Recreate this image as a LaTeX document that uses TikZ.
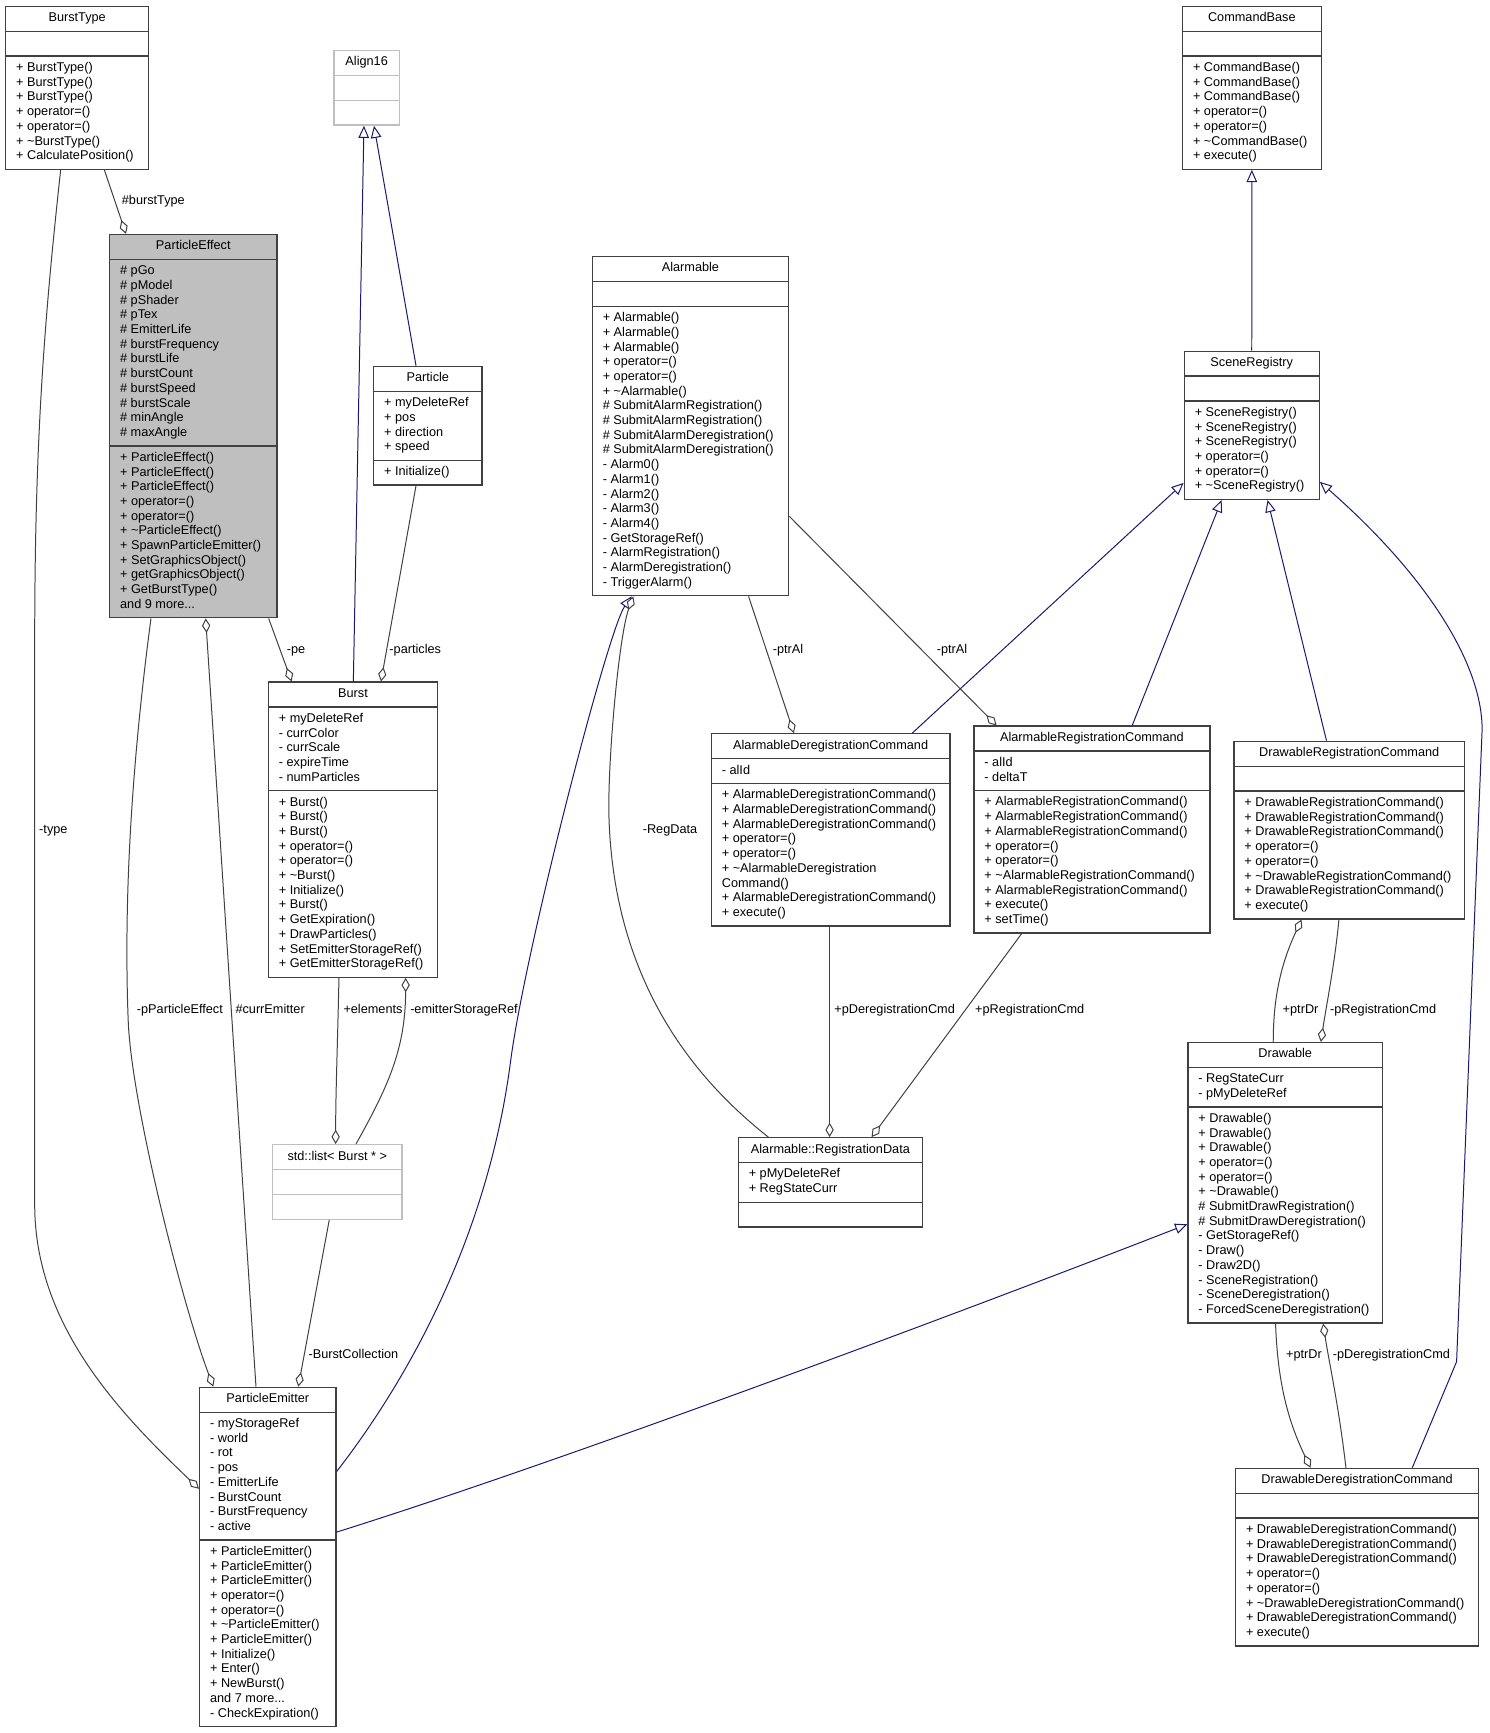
\documentclass[tikz,border=0pt]{standalone}
\usepackage{fontspec}
\setmainfont{Liberation Sans}
\usetikzlibrary{shapes.multipart,arrows.meta}
\definecolor{edgegray}{HTML}{404040}
\definecolor{inhblue}{HTML}{191970}
\definecolor{lightbd}{HTML}{BFBFBF}
\definecolor{selfill}{HTML}{BFBFBF}
\newcommand{\tld}{\textasciitilde}
\begin{document}
\begin{tikzpicture}[x=1pt,y=-1pt,
  cls/.style={rectangle split, rectangle split parts=3, draw=edgegray, line width=1.2pt,
    inner xsep=9.5pt, inner ysep=4.0pt, anchor=north west, align=left,
    rectangle split part align={center,left,left},
    font=\fontsize{11.5}{13.3}\selectfont, text=black},
  lightcls/.style={cls, draw=lightbd},
  lbl/.style={font=\fontsize{11.5}{13.3}\selectfont, inner sep=0pt, anchor=base west, text=black},
  agg/.style={draw=edgegray, line width=0.9pt, -{Diamond[fill=white, length=13pt, width=7.5pt]}},
  inh/.style={draw=inhblue, line width=0.9pt, -{Triangle[fill=white, length=11pt, width=9.5pt]}}
]
\fill[white] (0,0) rectangle (1348,1568);
\useasboundingbox (0,0) rectangle (1348,1568);

% ---------------- classes ----------------
\node[cls, minimum width=129.4pt] (bursttype) at (4.5,5.2)
 {\strut BurstType
  \nodepart{two}\strut
  \nodepart{three}\strut + BurstType()\\ + BurstType()\\ + BurstType()\\ + operator=()\\ + operator=()\\ + \tld BurstType()\\ + CalculatePosition()\strut};

\node[lightcls, minimum width=59.1pt] (align16) at (301.6,45.1)
 {\strut Align16 \nodepart{two}\strut \nodepart{three}\strut};

\node[cls, fill=selfill, minimum width=151.4pt] (peff) at (98.6,211.6)
 {\strut ParticleEffect
  \nodepart{two}\strut \# pGo\\ \# pModel\\ \# pShader\\ \# pTex\\ \# EmitterLife\\ \# burstFrequency\\ \# burstLife\\ \# burstCount\\ \# burstSpeed\\ \# burstScale\\ \# minAngle\\ \# maxAngle\strut
  \nodepart{three}\strut + ParticleEffect()\\ + ParticleEffect()\\ + ParticleEffect()\\ + operator=()\\ + operator=()\\ + \tld ParticleEffect()\\ + SpawnParticleEmitter()\\ + SetGraphicsObject()\\ + getGraphicsObject()\\ + GetBurstType()\\ and 9 more...\strut};

\node[cls, minimum width=98pt] (particle) at (337.5,330.9)
 {\strut Particle
  \nodepart{two}\strut + myDeleteRef\\ + pos\\ + direction\\ + speed\strut
  \nodepart{three}\strut + Initialize()\strut};

\node[cls, minimum width=177.6pt] (alarmable) at (535.3,231.5)
 {\strut Alarmable
  \nodepart{two}\strut
  \nodepart{three}\strut + Alarmable()\\ + Alarmable()\\ + Alarmable()\\ + operator=()\\ + operator=()\\ + \tld Alarmable()\\ \# SubmitAlarmRegistration()\\ \# SubmitAlarmRegistration()\\ \# SubmitAlarmDeregistration()\\ \# SubmitAlarmDeregistration()\\ - Alarm0()\\ - Alarm1()\\ - Alarm2()\\ - Alarm3()\\ - Alarm4()\\ - GetStorageRef()\\ - AlarmRegistration()\\ - AlarmDeregistration()\\ - TriggerAlarm()\strut};

\node[cls, minimum width=125.5pt] (cmdbase) at (1069.3,5.2)
 {\strut CommandBase
  \nodepart{two}\strut
  \nodepart{three}\strut + CommandBase()\\ + CommandBase()\\ + CommandBase()\\ + operator=()\\ + operator=()\\ + \tld CommandBase()\\ + execute()\strut};

\node[cls, minimum width=122.1pt] (scene) at (1070.9,317.2)
 {\strut SceneRegistry
  \nodepart{two}\strut
  \nodepart{three}\strut + SceneRegistry()\\ + SceneRegistry()\\ + SceneRegistry()\\ + operator=()\\ + operator=()\\ + \tld SceneRegistry()\strut};

\node[cls, minimum width=153.2pt] (burst) at (242.2,616.6)
 {\strut Burst
  \nodepart{two}\strut + myDeleteRef\\ - currColor\\ - currScale\\ - expireTime\\ - numParticles\strut
  \nodepart{three}\strut + Burst()\\ + Burst()\\ + Burst()\\ + operator=()\\ + operator=()\\ + \tld Burst()\\ + Initialize()\\ + Burst()\\ + GetExpiration()\\ + DrawParticles()\\ + SetEmitterStorageRef()\\ + GetEmitterStorageRef()\strut};

\node[lightcls, minimum width=117pt] (blist) at (246.1,1035.1)
 {\strut std::list< Burst * > \nodepart{two}\strut \nodepart{three}\strut};

\node[cls, minimum width=215.9pt] (adc) at (643,663.3)
 {\strut AlarmableDeregistrationCommand
  \nodepart{two}\strut - alId\strut
  \nodepart{three}\strut + AlarmableDeregistrationCommand()\\ + AlarmableDeregistrationCommand()\\ + AlarmableDeregistrationCommand()\\ + operator=()\\ + operator=()\\ + \tld AlarmableDeregistration\\ Command()\\ + AlarmableDeregistrationCommand()\\ + execute()\strut};

\node[cls, minimum width=213.5pt] (arc) at (880.6,656.4)
 {\strut AlarmableRegistrationCommand
  \nodepart{two}\strut - alId\\ - deltaT\strut
  \nodepart{three}\strut + AlarmableRegistrationCommand()\\ + AlarmableRegistrationCommand()\\ + AlarmableRegistrationCommand()\\ + operator=()\\ + operator=()\\ + \tld AlarmableRegistrationCommand()\\ + AlarmableRegistrationCommand()\\ + execute()\\ + setTime()\strut};

\node[cls, minimum width=208.7pt] (drc) at (1115.8,670.2)
 {\strut DrawableRegistrationCommand
  \nodepart{two}\strut
  \nodepart{three}\strut + DrawableRegistrationCommand()\\ + DrawableRegistrationCommand()\\ + DrawableRegistrationCommand()\\ + operator=()\\ + operator=()\\ + \tld DrawableRegistrationCommand()\\ + DrawableRegistrationCommand()\\ + execute()\strut};

\node[cls, minimum width=176.1pt] (drawable) at (1074.2,942.7)
 {\strut Drawable
  \nodepart{two}\strut - RegStateCurr\\ - pMyDeleteRef\strut
  \nodepart{three}\strut + Drawable()\\ + Drawable()\\ + Drawable()\\ + operator=()\\ + operator=()\\ + \tld Drawable()\\ \# SubmitDrawRegistration()\\ \# SubmitDrawDeregistration()\\ - GetStorageRef()\\ - Draw()\\ - Draw2D()\\ - SceneRegistration()\\ - SceneDeregistration()\\ - ForcedSceneDeregistration()\strut};

\node[cls, minimum width=166.7pt] (regdata) at (667.4,1028.8)
 {\strut Alarmable::RegistrationData
  \nodepart{two}\strut + pMyDeleteRef\\ + RegStateCurr\strut
  \nodepart{three}\strut};

\node[cls, minimum width=123.4pt] (pemit) at (180,1254.6)
 {\strut ParticleEmitter
  \nodepart{two}\strut - myStorageRef\\ - world\\ - rot\\ - pos\\ - EmitterLife\\ - BurstCount\\ - BurstFrequency\\ - active\strut
  \nodepart{three}\strut + ParticleEmitter()\\ + ParticleEmitter()\\ + ParticleEmitter()\\ + operator=()\\ + operator=()\\ + \tld ParticleEmitter()\\ + ParticleEmitter()\\ + Initialize()\\ + Enter()\\ + NewBurst()\\ and 7 more...\\ - CheckExpiration()\strut};

\node[cls, minimum width=219.9pt] (ddc) at (1117.3,1328)
 {\strut DrawableDeregistrationCommand
  \nodepart{two}\strut
  \nodepart{three}\strut + DrawableDeregistrationCommand()\\ + DrawableDeregistrationCommand()\\ + DrawableDeregistrationCommand()\\ + operator=()\\ + operator=()\\ + \tld DrawableDeregistrationCommand()\\ + DrawableDeregistrationCommand()\\ + execute()\strut};

% ---------------- connectors ----------------
% inheritance
\draw[inh] (319.7,0 |- burst.north) -- (329.3,0 |- align16.south);
\draw[inh] (376.4,0 |- particle.north) -- (338.4,0 |- align16.south);
\draw[inh] (scene.north) -- (cmdbase.south);
\draw[inh] (825.4,0 |- adc.north) -- (scene.west |- 0,436.9);
\draw[inh] (1024.4,0 |- arc.north) -- (1105.3,0 |- scene.south);
\draw[inh] (1200.2,0 |- drc.north) -- (1146.9,0 |- scene.south);
\draw[inh] (1277.8,0 |- ddc.north) -- (1317.9,1232) -- (1341,660)
   .. controls (1341,600) and (1290,520) .. (scene.east |- 0,436);
\draw[inh] (pemit.east |- 0,1331.4) .. controls (360,1260) and (440,1130) .. (462,960)
   .. controls (475,860) and (550,570) .. (571.5,0 |- alarmable.south);
\draw[inh] (pemit.east |- 0,1386.2) .. controls (500,1325) and (850,1195) .. (drawable.west |- 0,1107.7);

% aggregation
\draw[agg] (94.4,0 |- bursttype.south) -- (114,0 |- peff.north);
\draw[agg] (54.9,0 |- bursttype.south) .. controls (40,290) and (31.4,400) .. (31.4,580)
   -- (31.4,1090) .. controls (31.4,1200) and (110,1280) .. (pemit.west |- 0,1347);
\draw[agg] (243.1,0 |- peff.south) -- (263.9,0 |- burst.north);
\draw[agg] (231.6,0 |- pemit.north) -- (186.1,0 |- peff.south);
\draw[agg] (136.6,0 |- peff.south) .. controls (118,700) and (112,820) .. (116,923.6)
   .. controls (119,1000) and (165,1180) .. (193,0 |- pemit.north);
\draw[agg] (297.9,0 |- blist.south) -- (269.9,0 |- pemit.north);
\draw[agg] (306.7,0 |- burst.south) .. controls (305,960) and (303.7,990) .. (303.7,0 |- blist.north);
\draw[agg] (322.1,0 |- blist.north) .. controls (350,985) and (367,950) .. (367,0 |- burst.south);
\draw[agg] (376.4,0 |- particle.south) -- (344.7,0 |- burst.north);
\draw[agg] (695.1,0 |- regdata.north) .. controls (640,985) and (556,900) .. (551,740)
   .. controls (549.5,690) and (560,575) .. (573,0 |- alarmable.south);
\draw[agg] (677.3,0 |- alarmable.south) -- (718.3,0 |- adc.north);
\draw[agg] (alarmable.east |- 0,467.1) -- (901.7,0 |- arc.north);
\draw[agg] (750.6,0 |- adc.south) -- (750.6,0 |- regdata.north);
\draw[agg] (924.3,0 |- arc.south) -- (788.6,0 |- regdata.north);
\draw[agg] (1211.4,0 |- drc.south) .. controls (1208,870) and (1200,910) .. (1195.1,0 |- drawable.north);
\draw[agg] (1152,0 |- drawable.north) .. controls (1152,900) and (1160,870) .. (1177.6,0 |- drc.south);
\draw[agg] (1217.8,0 |- ddc.north) .. controls (1211,1270) and (1202,1230) .. (1197.2,0 |- drawable.south);
\draw[agg] (1154.1,0 |- drawable.south) .. controls (1156,1250) and (1165,1285) .. (1185.8,0 |- ddc.north);

% ---------------- labels ----------------
\node[lbl] (lbursttype) at (110.1,185.4) {\#burstType};
\node[lbl] (ltype) at (35.3,753.9) {-type};
\node[lbl] (lpe) at (259.4,591.3) {-pe};
\node[lbl] (lparticles) at (352.2,591.3) {-particles};
\node[lbl] (lppe) at (123.7,916.7) {-pParticleEffect};
\node[lbl] (lcurr) at (212.9,916.7) {\#currEmitter};
\node[lbl] (lelem) at (310.6,916.7) {+elements};
\node[lbl] (lesr) at (371,916.7) {-emitterStorageRef};
\node[lbl] (lbc) at (279,1229.5) {-BurstCollection};
\node[lbl] (lregdata) at (581.4,753.9) {-RegData};
\node[lbl] (lptral1) at (699,591.3) {-ptrAl};
\node[lbl] (lptral2) at (847.4,591.3) {-ptrAl};
\node[lbl] (lpdc) at (754.8,916.7) {+pDeregistrationCmd};
\node[lbl] (lprc) at (882.1,916.7) {+pRegistrationCmd};
\node[lbl] (lptrdr1) at (1160.4,916.7) {+ptrDr};
\node[lbl] (lprc2) at (1203.3,916.7) {-pRegistrationCmd};
\node[lbl] (lptrdr2) at (1163.5,1229.5) {+ptrDr};
\node[lbl] (lpdc2) at (1205.7,1229.5) {-pDeregistrationCmd};
\end{tikzpicture}
\end{document}
